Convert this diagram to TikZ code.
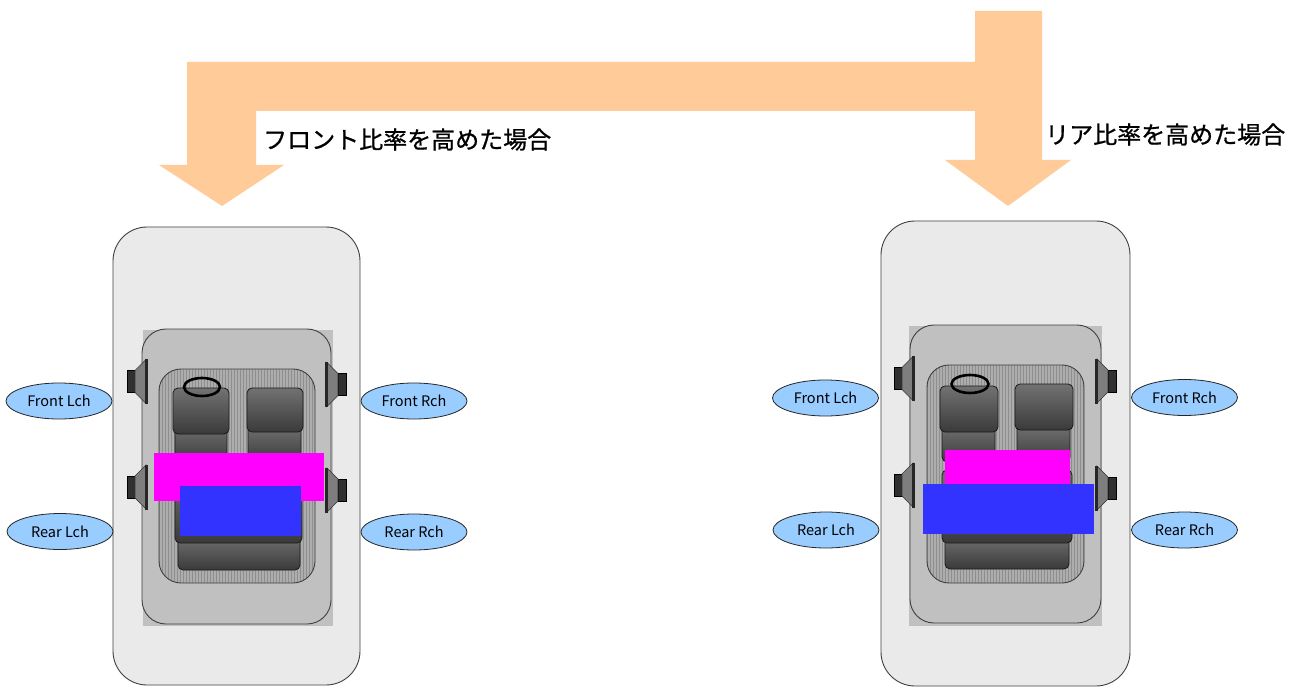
\documentclass[tikz,border=0pt]{standalone}
\usepackage{fontspec}
\setmainfont{Noto Sans CJK JP}
\newfontfamily\jpfont{Noto Sans CJK JP}[FakeBold=0.8]
\usetikzlibrary{shapes.geometric,patterns}
\definecolor{arrowc}{HTML}{FFCC99}
\definecolor{bodyc}{HTML}{EAEAEA}
\definecolor{roofc}{HTML}{C0C0C0}
\definecolor{cabinc}{HTML}{ADADAD}
\definecolor{stripec}{HTML}{8E8E8E}
\definecolor{labelc}{HTML}{99CCFF}
\definecolor{magc}{HTML}{FF00FF}
\definecolor{bluec}{HTML}{3333FF}
\definecolor{seattop}{HTML}{727272}
\definecolor{seatbot}{HTML}{3A3A3A}
\definecolor{conec}{HTML}{7E7E7E}
\definecolor{magnetc}{HTML}{303030}
\tikzset{
  spk/.pic={
    \filldraw[fill=magnetc,draw=black,line width=0.6pt] (-20,-11) rectangle (-12,11);
    \filldraw[fill=conec,draw=black!80,line width=0.6pt] (-12,-11) -- (-1,-22) -- (-1,22) -- (-12,11) -- cycle;
    \fill[black!85] (-1.8,-22.5) rectangle (0.6,22.5);
  }
}
\begin{document}
\begin{tikzpicture}[x=1pt,y=-1pt,
  lbl/.style={ellipse,draw=black!85,line width=0.8pt,fill=labelc,minimum width=106pt,minimum height=36pt,inner sep=0pt,font=\fontsize{14.5}{16}\selectfont},
  jp/.style={anchor=west,inner sep=0pt,font=\jpfont\fontsize{24}{28}\selectfont},
  carbody/.style={draw=black!75,line width=0.9pt,fill=bodyc,rounded corners=34pt},
  roofrect/.style={fill=roofc},
  roofround/.style={fill=roofc,draw=black!75,line width=0.9pt,rounded corners=24pt},
  cabin/.style={fill=cabinc,rounded corners=22pt},
  cabinline/.style={draw=black!75,line width=0.9pt,rounded corners=22pt},
  seat/.style={top color=seattop,bottom color=seatbot,draw=black!90,line width=0.8pt,rounded corners=5pt},
  wheel/.style={draw=black,line width=2.6pt},
  zonea/.style={fill=magc},
  zoneb/.style={fill=bluec}
]
\fill[white] (0,0) rectangle (1307,687);
\useasboundingbox (0,0) rectangle (1307,687);

% ---- orange arrow ----
\fill[arrowc] (187,62) -- (975,62) -- (975,11) -- (1042,11) -- (1042,160) -- (1071,160)
  -- (1008,206) -- (945,160) -- (975,160) -- (975,111) -- (256,111) -- (256,165)
  -- (284,165) -- (222,206) -- (159,165) -- (187,165) -- cycle;

\node[jp] (tfront) at (263,139.5) {フロント比率を高めた場合};
\node[jp] (trear) at (1045,134.5) {リア比率を高めた場合};

% ---- left car ----
\draw[carbody] (113,227) rectangle (360,685);
\fill[roofrect] (143,330) rectangle (333,626);
\draw[roofround] (142,329) rectangle (331,624);
\fill[cabin] (159,369) rectangle (315,583);
\fill[pattern=vertical lines,pattern color=stripec,rounded corners=22pt] (159,369) rectangle (315,583);
\draw[cabinline] (159,369) rectangle (315,583);
\draw[seat] (175,425) rectangle (227,462);
\draw[seat] (173,388) rectangle (229,434);
\draw[seat] (248,425) rectangle (301,462);
\draw[seat] (247,388) rectangle (303,432);
\draw[seat] (178,535) rectangle (300,570);
\draw[seat] (175,470) rectangle (302,543);
\draw[wheel] (202,387) ellipse [x radius=18, y radius=9];
\fill[zonea] (154,453) rectangle (324,501);
\fill[zoneb] (180,486) rectangle (301,536);
\pic at (147,381.5) {spk};
\pic at (147,487) {spk};
\pic[xscale=-1] at (326,384.5) {spk};
\pic[xscale=-1] at (326,490) {spk};
\node[lbl] (lfl) at (59,401) {Front Lch};
\node[lbl] (lrl) at (60,531.5) {Rear Lch};
\node[lbl] (lfr) at (414,401) {Front Rch};
\node[lbl] (lrr) at (414,532) {Rear Rch};

% ---- right car ----
\draw[carbody] (881,221) rectangle (1130,686);
\fill[roofrect] (909,326) rectangle (1102,626);
\draw[roofround] (910,325) rectangle (1101,623);
\fill[cabin] (927,365) rectangle (1084,583);
\fill[pattern=vertical lines,pattern color=stripec,rounded corners=22pt] (927,365) rectangle (1084,583);
\draw[cabinline] (927,365) rectangle (1084,583);
\draw[seat] (942,425) rectangle (995,462);
\draw[seat] (940,386) rectangle (998,432);
\draw[seat] (1017,425) rectangle (1070,462);
\draw[seat] (1015,384) rectangle (1073,430);
\draw[seat] (945,535) rectangle (1069,569);
\draw[seat] (942,470) rectangle (1072,543);
\draw[wheel] (970,384) ellipse [x radius=18.5, y radius=9];
\fill[zonea] (945,450) rectangle (1070,484);
\fill[zoneb] (923,484) rectangle (1094,534);
\pic at (914,378.5) {spk};
\pic at (914,485) {spk};
\pic[xscale=-1] at (1096,381) {spk};
\pic[xscale=-1] at (1096,488) {spk};
\node[lbl] (rfl) at (825.5,398) {Front Lch};
\node[lbl] (rrl) at (826,530) {Rear Lch};
\node[lbl] (rfr) at (1184.5,397.5) {Front Rch};
\node[lbl] (rrr) at (1184.5,530) {Rear Rch};
\end{tikzpicture}
\end{document}
